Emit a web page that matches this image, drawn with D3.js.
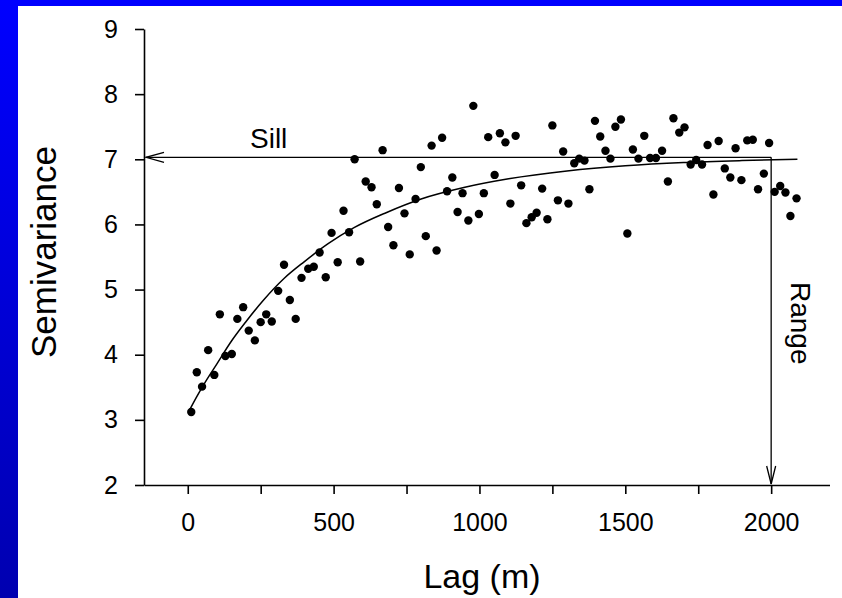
<!DOCTYPE html>
<html>
<head>
<meta charset="utf-8">
<script src="https://cdn.jsdelivr.net/npm/d3@7"></script>
<style>
  body { margin: 0; background: #fff; }
  text { font-family: "Liberation Sans", Arial, sans-serif; fill: #000; }
</style>
</head>
<body>
<script>
// semivariogram points (lag in m, semivariance)
const lags = [12, 31, 49, 70, 91, 110, 129, 151, 170, 190, 209, 230, 250, 269, 288, 310, 330, 350, 370, 390,
  413, 432, 452, 473, 493, 514, 534, 553, 572, 591, 610, 630, 648, 668, 687, 705, 724, 743, 761, 781,
  799, 816, 836, 853, 872, 889, 907, 925, 942, 962, 979, 998, 1015, 1030, 1052, 1070, 1089, 1106, 1124, 1143,
  1161, 1179, 1196, 1215, 1233, 1250, 1269, 1287, 1305, 1325, 1342, 1360, 1377, 1396, 1414, 1432, 1449, 1466, 1485, 1507,
  1526, 1545, 1565, 1585, 1605, 1626, 1646, 1665, 1685, 1703, 1724, 1743, 1763, 1782, 1802, 1820, 1841, 1860, 1878, 1898,
  1918, 1937, 1955, 1975, 1993, 2012, 2031, 2049, 2066, 2087];
const semivar = [3.12, 3.73, 3.51, 4.07, 3.69, 4.62, 3.98, 4.01, 4.55, 4.73, 4.37, 4.22, 4.50, 4.62, 4.51, 4.98, 5.38, 4.84, 4.55, 5.18,
  5.32, 5.35, 5.57, 5.19, 5.87, 5.42, 6.21, 5.88, 7.00, 5.43, 6.66, 6.57, 6.31, 7.14, 5.96, 5.68, 6.56, 6.17, 5.54, 6.39,
  6.88, 5.82, 7.21, 5.60, 7.33, 6.51, 6.72, 6.19, 6.48, 6.06, 7.82, 6.16, 6.48, 7.34, 6.76, 7.40, 7.26, 6.32, 7.36, 6.60,
  6.02, 6.11, 6.18, 6.55, 6.08, 7.52, 6.37, 7.12, 6.32, 6.94, 7.01, 6.98, 6.54, 7.59, 7.35, 7.13, 7.01, 7.50, 7.61, 5.86,
  7.15, 7.01, 7.36, 7.02, 7.02, 7.13, 6.66, 7.63, 7.41, 7.49, 6.92, 6.99, 6.92, 7.22, 6.46, 7.28, 6.86, 6.72, 7.17, 6.68,
  7.29, 7.30, 6.54, 6.78, 7.25, 6.50, 6.59, 6.49, 6.13, 6.40];

// fitted model curve
const modelLag = [6, 30, 60, 100, 150, 200, 260, 330, 400, 480, 570, 680, 800, 950, 1100, 1300, 1500, 1700, 1900, 2090];
const modelVal = [3.15, 3.35, 3.58, 3.86, 4.21, 4.51, 4.84, 5.17, 5.43, 5.70, 5.95, 6.18, 6.39, 6.57, 6.70, 6.82, 6.90, 6.95, 6.98, 7.00];

const xTickValues = [0, 250, 500, 750, 1000, 1250, 1500, 1750, 2000];
const xLabelled = [0, 500, 1000, 1500, 2000];
const yTickValues = [2, 3, 4, 5, 6, 7, 8, 9];

const sill = 7.03;
const range = 2000;

const width = 842, height = 598;

const svg = d3.select("body").append("svg")
  .attr("width", width)
  .attr("height", height);

// blue slide frame
const grad = svg.append("defs").append("linearGradient")
  .attr("id", "sideBlue")
  .attr("x1", 0).attr("y1", 0).attr("x2", 0).attr("y2", 1);
grad.append("stop").attr("offset", "0%").attr("stop-color", "#0000ff");
grad.append("stop").attr("offset", "100%").attr("stop-color", "#0000b0");

svg.append("rect").attr("x", 0).attr("y", 0).attr("width", width).attr("height", 6).attr("fill", "#0000ff");
svg.append("rect").attr("x", 0).attr("y", 0).attr("width", 18).attr("height", height).attr("fill", "url(#sideBlue)");

const x = d3.scaleLinear().domain([-150, 2200]).range([144, 829.5]);
const y = d3.scaleLinear().domain([2, 9]).range([485, 29]);

// axes
const gx = svg.append("g")
  .attr("transform", "translate(0," + y(2) + ")")
  .call(d3.axisBottom(x)
    .tickValues(xTickValues)
    .tickSize(9)
    .tickSizeOuter(0)
    .tickPadding(19)
    .tickFormat(d => xLabelled.includes(d) ? d : ""));

const gy = svg.append("g")
  .attr("transform", "translate(" + x(-150) + ",0)")
  .call(d3.axisLeft(y)
    .tickValues(yTickValues)
    .tickSize(9)
    .tickSizeOuter(0)
    .tickPadding(17)
    .tickFormat(d3.format("d")));

[gx, gy].forEach(g => {
  g.attr("font-family", null).attr("font-size", null);
  g.selectAll("path, line").attr("stroke", "#000").attr("stroke-width", 1.6);
  g.selectAll("text").style("font-size", "25px");
});

// model curve
const line = d3.line()
  .x(d => x(d[0]))
  .y(d => y(d[1]))
  .curve(d3.curveMonotoneX);

svg.append("path")
  .datum(modelLag.map((l, i) => [l, modelVal[i]]))
  .attr("d", line)
  .attr("fill", "none")
  .attr("stroke", "#000")
  .attr("stroke-width", 1.5);

// sill and range arrows
svg.append("line")
  .attr("x1", x(-150) + 2).attr("y1", y(sill))
  .attr("x2", x(range)).attr("y2", y(sill))
  .attr("stroke", "#000").attr("stroke-width", 1.3);

svg.append("path")
  .attr("d", "M" + (x(-150) + 20) + "," + (y(sill) - 5) + "L" + (x(-150) + 2) + "," + y(sill) + "L" + (x(-150) + 20) + "," + (y(sill) + 5))
  .attr("fill", "none").attr("stroke", "#000").attr("stroke-width", 1.3);

svg.append("line")
  .attr("x1", x(range)).attr("y1", y(sill))
  .attr("x2", x(range)).attr("y2", y(2) - 1)
  .attr("stroke", "#000").attr("stroke-width", 1.3);

svg.append("path")
  .attr("d", "M" + (x(range) - 4.5) + "," + (y(2) - 19) + "L" + x(range) + "," + (y(2) - 1) + "L" + (x(range) + 4.5) + "," + (y(2) - 19))
  .attr("fill", "none").attr("stroke", "#000").attr("stroke-width", 1.3);

// data points
svg.append("g")
  .selectAll("circle")
  .data(lags.map((l, i) => [l, semivar[i]]))
  .join("circle")
  .attr("cx", d => x(d[0]))
  .attr("cy", d => y(d[1]))
  .attr("r", 4.2)
  .attr("fill", "#000");

// labels
svg.append("text")
  .attr("x", 250).attr("y", 148)
  .style("font-size", "28px")
  .text("Sill");

svg.append("text")
  .attr("transform", "translate(791,282) rotate(90)")
  .style("font-size", "28px")
  .text("Range");

svg.append("text")
  .attr("transform", "translate(56,252) rotate(-90)")
  .attr("text-anchor", "middle")
  .style("font-size", "35px")
  .text("Semivariance");

svg.append("text")
  .attr("x", 482).attr("y", 588)
  .attr("text-anchor", "middle")
  .style("font-size", "34px")
  .text("Lag (m)");
</script>
</body>
</html>
